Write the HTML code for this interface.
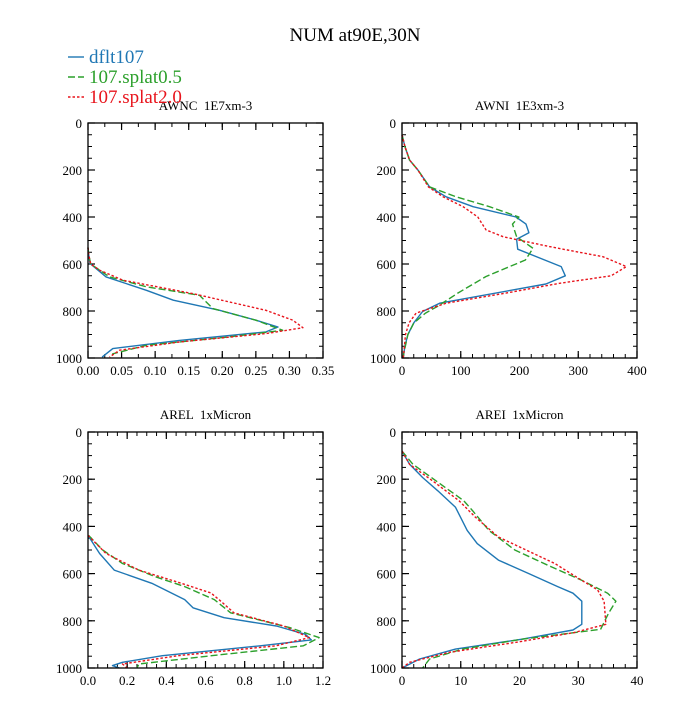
<!DOCTYPE html>
<html><head><meta charset="utf-8"><style>
body{margin:0;background:#fff}
svg text{font-family:"Liberation Serif",serif;fill:#000;white-space:pre}
</style></head><body>
<svg id="c" width="700" height="700" viewBox="0 0 700 700"></svg>
<script>
// Pressure levels and series values (p, value) per panel
const awncBlueP=[530,560,598,655,712,754,797,839,868,889,925,960,996];
const awncBlueX=[0,0.001,0.003,0.027,0.087,0.127,0.196,0.25,0.283,0.265,0.136,0.037,0.021];
const awncGreenP=[530,560,600,655,697,733,790,839,882,910,946,982,1000];
const awncGreenX=[0,0.001,0.004,0.032,0.087,0.166,0.186,0.25,0.29,0.21,0.087,0.037,0.035];
const awncRedP=[530,560,600,626,669,726,797,839,871,896,932,967,996];
const awncRedX=[0,0.001,0.004,0.017,0.052,0.156,0.265,0.305,0.32,0.265,0.136,0.047,0.032];

const awniBlueP=[50,100,158,200,272,314,356,400,430,467,495,537,611,650,685,767,802,850,900,950,1000];
const awniBlueX=[0,5,13,27,47,75,121,194,211,216,195,197,271,278,245,64,35,20,10,5,2];
const awniGreenP=[50,100,158,200,272,314,356,400,430,484,533,583,653,724,781,809,851,900,979,1000];
const awniGreenX=[0,5,13,27,47,92,149,199,188,195,223,210,143,95,60,40,20,10,3,2];
const awniRedP=[50,100,158,200,272,314,356,400,455,484,526,569,611,650,682,724,767,809,850,900,979,1000];
const awniRedX=[0,5,13,27,45,70,104,129,143,172,251,342,382,356,268,177,75,24,12,6,3,2];

const arelBlueP=[438,515,585,641,710,745,787,822,857,881,906,948,976,990,1000];
const arelBlueX=[0,0.059,0.134,0.326,0.494,0.536,0.695,0.962,1.11,1.14,0.88,0.38,0.176,0.125,0.16];
const arelGreenP=[438,500,557,613,655,710,766,829,871,906,948,983,1000];
const arelGreenX=[0.003,0.075,0.176,0.343,0.494,0.645,0.728,1.03,1.18,1.10,0.63,0.26,0.25];
const arelRedP=[438,515,585,641,682,717,766,822,871,906,948,983,1000];
const arelRedX=[0,0.092,0.26,0.477,0.628,0.678,0.745,1.0,1.13,0.96,0.46,0.176,0.2];

const areiBlueP=[81,137,193,249,319,417,473,543,599,655,683,717,815,839,878,920,962,1000];
const areiBlueX=[0,1.3,3.5,6.1,9.1,11.1,12.8,16.4,21.5,26.5,29.1,30.6,30.6,29.1,20.4,9.1,3.0,0];
const areiGreenP=[81,137,207,291,333,417,500,571,627,683,717,766,836,878,920,962,1000];
const areiGreenX=[0,1.85,5.8,10.5,12,14.8,19.2,25.4,30.5,35,36.4,35.2,33.8,20.4,10.3,4.7,3.5];
const areiRedP=[81,137,207,291,361,445,557,627,669,717,815,850,892,934,976,1000];
const areiRedX=[0,1.3,5.2,9.7,12.5,16.4,26,30.5,33.3,34.4,34.7,29.3,19.2,8,1.3,0];

const yTicks=[0,200,400,600,800,1000];
const awncTicks=[0,0.05,0.10,0.15,0.20,0.25,0.30,0.35];
const awncLabels=["0.00","0.05","0.10","0.15","0.20","0.25","0.30","0.35"];
const awniTicks=[0,100,200,300,400];
const arelTicks=[0,0.2,0.4,0.6,0.8,1.0,1.2];
const arelLabels=["0.0","0.2","0.4","0.6","0.8","1.0","1.2"];
const areiTicks=[0,10,20,30,40];
const seriesNames=["dflt107","107.splat0.5","107.splat2.0"];

const NS="http://www.w3.org/2000/svg";
const svg=document.getElementById('c');
function mk(t,a,parent){const e=document.createElementNS(NS,t);for(const k in a)e.setAttribute(k,a[k]);(parent||svg).appendChild(e);return e;}
const colors=["#1f77b4","#2ca02c","#e8141c"];
const dashes=["none","7,3","2.5,2"];

const panels=[
 {name:"awnc",title:"AWNC  1E7xm-3",x0:88,x1:323,y0:123,y1:358,max:0.35,ticks:awncTicks,labels:awncLabels,minor:0.025,series:[[awncBlueP,awncBlueX],[awncGreenP,awncGreenX],[awncRedP,awncRedX]]},
 {name:"awni",title:"AWNI  1E3xm-3",x0:402,x1:637,y0:123,y1:358,max:400,ticks:awniTicks,labels:awniTicks.map(String),minor:20,series:[[awniBlueP,awniBlueX],[awniGreenP,awniGreenX],[awniRedP,awniRedX]]},
 {name:"arel",title:"AREL  1xMicron",x0:88,x1:323,y0:432,y1:668,max:1.2,ticks:arelTicks,labels:arelLabels,minor:0.05,series:[[arelBlueP,arelBlueX],[arelGreenP,arelGreenX],[arelRedP,arelRedX]]},
 {name:"arei",title:"AREI  1xMicron",x0:402,x1:637,y0:432,y1:668,max:40,ticks:areiTicks,labels:areiTicks.map(String),minor:2,series:[[areiBlueP,areiBlueX],[areiGreenP,areiGreenX],[areiRedP,areiRedX]]}
];

panels.forEach(P=>{
  const g=mk('g',{});
  
  
  const sx=v=>P.x0+v/P.max*(P.x1-P.x0);
  const sy=p=>P.y0+p/1000*(P.y1-P.y0);
  const t=mk('text',{x:(P.x0+P.x1)/2,y:P.y0-13,'font-size':13,'text-anchor':'middle'},g);
  t.textContent=P.title;
  
  
  for(let v=0;v<=P.max+1e-9;v+=P.minor){const x=sx(v);
    mk('line',{x1:x,x2:x,y1:P.y1,y2:P.y1-4,stroke:'#000','stroke-width':1},g);
    mk('line',{x1:x,x2:x,y1:P.y0,y2:P.y0+4,stroke:'#000','stroke-width':1},g);}
  for(let p=0;p<=1000;p+=50){const y=sy(p);
    mk('line',{x1:P.x0,x2:P.x0+4,y1:y,y2:y,stroke:'#000','stroke-width':1},g);
    mk('line',{x1:P.x1,x2:P.x1-4,y1:y,y2:y,stroke:'#000','stroke-width':1},g);}
  P.ticks.forEach((v,i)=>{const x=sx(v);
    mk('line',{x1:x,x2:x,y1:P.y1,y2:P.y1-7,stroke:'#000','stroke-width':1.2},g);
    mk('line',{x1:x,x2:x,y1:P.y0,y2:P.y0+7,stroke:'#000','stroke-width':1.2},g);
    const l=mk('text',{x:x,y:P.y1+17,'font-size':13,'text-anchor':'middle'},g);
    l.textContent=P.labels[i];
    
    });
  yTicks.forEach(p=>{const y=sy(p);
    mk('line',{x1:P.x0,x2:P.x0+7,y1:y,y2:y,stroke:'#000','stroke-width':1.2},g);
    mk('line',{x1:P.x1,x2:P.x1-7,y1:y,y2:y,stroke:'#000','stroke-width':1.2},g);
    const l=mk('text',{x:P.x0-6,y:y+5,'font-size':13,'text-anchor':'end'},g);
    l.textContent=String(p);
    
    });
  P.series.forEach((s,i)=>{
    const pts=s[0].map((p,k)=>sx(s[1][k]).toFixed(1)+','+sy(p).toFixed(1)).join(' ');
    const pl=mk('polyline',{points:pts,fill:'none',stroke:colors[i],'stroke-width':1.4,'stroke-dasharray':dashes[i],'stroke-linejoin':'round'},g);
    
    });
  const r=mk('rect',{x:P.x0,y:P.y0,width:P.x1-P.x0,height:P.y1-P.y0,fill:'none',stroke:'#000','stroke-width':1.3},g);
  
  
});

const title=mk('text',{x:355,y:41,'font-size':19,'text-anchor':'middle'});
title.textContent="NUM at90E,30N";



seriesNames.forEach((n,i)=>{
  const y=57+i*20;
  const g=mk('g',{});
  
  
  mk('line',{x1:68,x2:84,y1:y,y2:y,stroke:colors[i],'stroke-width':1.4,'stroke-dasharray':dashes[i]},g);
  const t=mk('text',{x:89,y:y+6,'font-size':19},g);
  t.style.fill=colors[i];
  t.textContent=n;
});
</script>
</body></html>
